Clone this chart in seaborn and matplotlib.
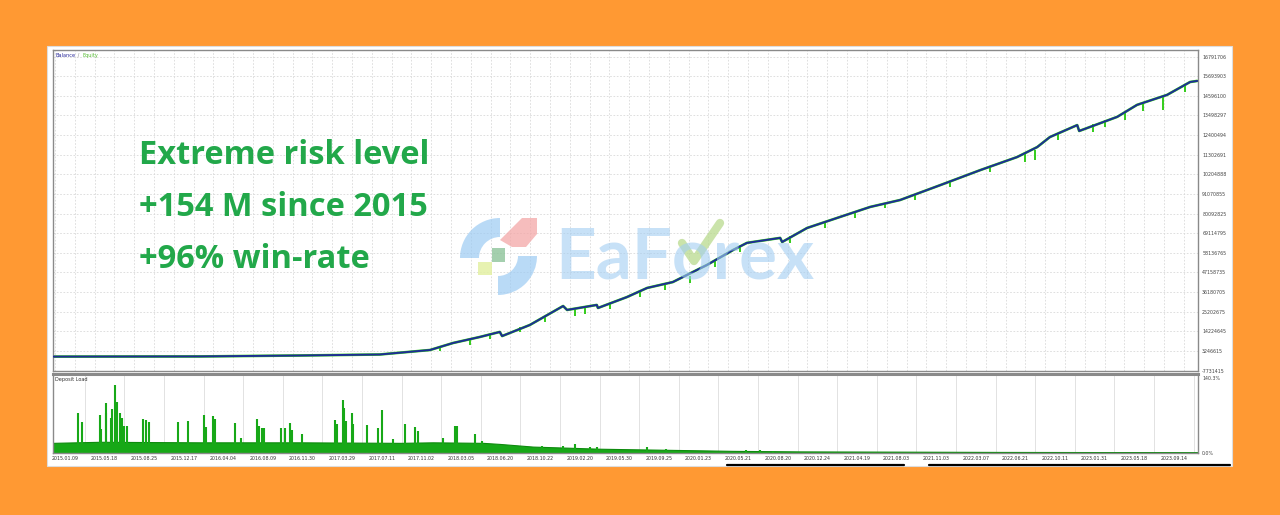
import matplotlib
matplotlib.use("Agg")
import matplotlib.pyplot as plt
from matplotlib.patches import Rectangle, Wedge, Polygon
import seaborn as sns
import pandas as pd

# balance curve (x = position in date-label units, y = millions)
bal_x = [-0.30, 3.41, 5.93, 7.95, 9.22, 9.80, 10.48, 10.98, 11.04, 11.74, 12.58, 12.68,
         13.43, 13.46, 14.19, 14.70, 15.35, 16.21, 16.87, 17.22, 18.06, 18.11, 18.74,
         19.57, 20.33, 21.09, 22.10, 23.11, 24.04, 24.55, 24.87, 25.56, 25.61, 26.57,
         27.07, 27.83, 28.41, 28.59]
bal_y = [0.10, 0.2, 0.72, 1.28, 3.8, 7.71, 11.1, 13.9, 11.6, 17.8, 28.4, 26.2,
         29.0, 27.3, 33.4, 38.5, 41.8, 51.35, 59.7, 63.7, 66.5, 64.2, 72.05,
         78.2, 83.8, 87.7, 96.0, 104.4, 111.7, 117.3, 122.9, 129.6, 126.3, 134.2,
         140.9, 146.5, 153.7, 154.3]

# equity drawdown spikes (position, top, bottom)
dip_x = [9.47, 10.23, 10.73, 11.49, 12.12, 12.88, 13.13, 13.76, 14.52, 15.15, 15.78,
         16.41, 17.05, 18.31, 19.19, 19.95, 20.71, 21.46, 22.35, 23.36, 24.24, 24.49,
         25.08, 25.96, 26.26, 26.77, 27.22, 27.73, 28.28]
dip_top = [5.5, 9.4, 12.8, 16.7, 22.8, 26.7, 27.9, 30.1, 36.8, 40.7, 45.2,
           53.6, 62.0, 67.6, 75.4, 81.0, 86.0, 91.0, 98.3, 106.7, 113.4, 115.6,
           125.1, 130.2, 132.4, 136.9, 141.9, 145.4, 152.6]
dip_low = [3.2, 6.6, 10.0, 13.9, 19.5, 22.8, 23.9, 26.7, 33.4, 37.4, 41.3,
           50.2, 58.6, 63.7, 72.0, 77.6, 83.2, 87.6, 94.9, 103.3, 108.9, 110.1,
           121.2, 125.7, 128.5, 132.4, 137.5, 138.1, 148.2]

# deposit load: base level and spikes (%)
load_x = [-0.30, 0.88, 3.41, 5.93, 8.46, 9.29, 10.56, 10.98, 11.82, 12.68, 13.51,
          14.34, 15.20, 16.04, 16.87, 18.56, 21.09, 23.61, 28.61]
load_y = [19, 21, 20, 20, 19, 20, 19, 17, 12, 10, 8, 7, 6, 5, 4, 3, 2.5, 2, 1.5]
spike_x = [0.34, 0.42, 0.88, 0.91, 1.03, 1.05, 1.16, 1.20, 1.26, 1.31, 1.38, 1.45,
           1.50, 1.58, 1.96, 2.06, 2.13, 2.86, 3.11, 3.50, 3.57, 3.74, 3.80, 4.29,
           4.44, 4.86, 4.90, 4.97, 5.03, 5.45, 5.57, 5.68, 5.74, 5.98, 6.82, 6.86,
           7.01, 7.05, 7.10, 7.24, 7.28, 7.62, 7.90, 8.00, 8.29, 8.60, 8.84, 8.92,
           9.55, 9.85, 9.91, 10.35, 10.52, 12.04, 12.57, 12.88, 13.26, 13.43, 14.69,
           15.19, 17.20, 17.55, 17.88]
spike_y = [75, 58, 72, 45, 93, 75, 66, 83, 127, 96, 75, 66,
           50, 50, 64, 61, 58, 58, 60, 72, 49, 70, 63, 56,
           29, 63, 50, 47, 46, 46, 46, 56, 44, 35, 61, 54,
           99, 84, 60, 75, 54, 52, 46, 81, 26, 54, 49, 41,
           29, 50, 50, 35, 23, 14, 14, 16, 11, 11, 12,
           8, 5, 5, 4]

x_labels = ['2015.01.09', '2015.05.18', '2015.08.25', '2015.12.17', '2016.04.04',
            '2016.08.09', '2016.11.30', '2017.03.29', '2017.07.11', '2017.11.02',
            '2018.03.05', '2018.06.20', '2018.10.22', '2019.02.20', '2019.05.30',
            '2019.09.25', '2020.01.23', '2020.05.21', '2020.08.20', '2020.12.24',
            '2021.04.19', '2021.08.03', '2021.11.03', '2022.03.07', '2022.06.21',
            '2022.10.11', '2023.01.31', '2023.05.18', '2023.09.14']
y_ticks = [-7.73, 3.25, 14.22, 25.20, 36.18, 47.16, 58.14, 69.11, 80.09, 91.07,
           102.05, 113.03, 124.00, 134.98, 145.96, 156.94, 167.92]
y_labels = ['-7731415', '3246615', '14224645', '25202675', '36180705', '47158735',
            '58136765', '69114795', '80092825', '91070855', '10204888', '11302691',
            '12400494', '13498297', '14596100', '15693903', '16791706']
headline = ['Extreme risk level', '+154 M since 2015', '+96% win-rate']

W, H = 1280, 515
ORANGE = '#FF9933'
NAVY = '#1E2C96'
EQ_GREEN = '#33CC1A'
LOAD_GREEN = '#17A817'
TEXT_GREEN = '#22A84A'

sns.set_theme(style='white')
plt.rcParams['font.family'] = ['DejaVu Sans']


def px_rect(x0, y0, x1, y1):
    return [x0 / W, 1 - y1 / H, (x1 - x0) / W, (y1 - y0) / H]


fig = plt.figure(figsize=(W / 100, H / 100), dpi=100)
fig.patch.set_facecolor(ORANGE)

# white panel behind the charts
bg = fig.add_axes([0, 0, 1, 1], zorder=0)
bg.set_xlim(0, W)
bg.set_ylim(H, 0)
bg.axis('off')
bg.add_patch(Rectangle((47, 46), 1185, 420, facecolor='white', edgecolor='#DDDDDD', lw=0.8))

xmin, xmax = -0.30, 28.61

# ---- balance / equity panel
ax = fig.add_axes(px_rect(53, 50, 1198, 371), zorder=1)
ax.set_facecolor('white')
df_bal = pd.DataFrame({'x': bal_x, 'y': bal_y})
sns.lineplot(data=df_bal, x='x', y='y', ax=ax, color=EQ_GREEN, lw=1.9,
             estimator=None, sort=False, zorder=2)
ax.vlines(dip_x, dip_low, dip_top, color=EQ_GREEN, lw=1.4, zorder=2)
sns.lineplot(data=df_bal, x='x', y='y', ax=ax, color=NAVY, lw=1.4,
             estimator=None, sort=False, zorder=3)
ax.set_yticks(y_ticks)
ax.set_yticklabels(y_labels)
ax.yaxis.tick_right()
ax.tick_params(axis='y', labelsize=3.4, colors='#444444', length=0, pad=3)
ax.set_xticks([k * 0.5 + 0.25 for k in range(-1, 58)])
ax.tick_params(axis='x', length=0, labelbottom=False)
ax.set_xlim(xmin, xmax)
ax.set_ylim(-7.95, 171.6)
ax.grid(True, color='#D9D9D9', lw=0.6, ls=(0, (2, 2)))
ax.set_xlabel('')
ax.set_ylabel('')
for s in ax.spines.values():
    s.set_color('#8A8A8A')
    s.set_linewidth(1.0)
ax.text(0.002, 0.992, 'Balance', transform=ax.transAxes, fontsize=3.6,
        color='#2B2B9A', ha='left', va='top')
ax.text(0.0205, 0.992, ' / ', transform=ax.transAxes, fontsize=3.6,
        color='#888888', ha='left', va='top')
ax.text(0.0262, 0.992, 'Equity', transform=ax.transAxes, fontsize=3.6,
        color='#55BB33', ha='left', va='top')

# ---- deposit load panel
ax2 = fig.add_axes(px_rect(53, 374, 1198, 453), zorder=1)
ax2.set_facecolor('white')
ax2.fill_between(load_x, 0, load_y, color=LOAD_GREEN, lw=0.8, edgecolor='#0E8A0E')
ax2.vlines(spike_x, 0, spike_y, color=LOAD_GREEN, lw=1.5)
ax2.set_yticks([0, 140.3])
ax2.set_yticklabels(['0.0%', '140.3%'])
ax2.yaxis.tick_right()
ax2.tick_params(axis='y', labelsize=3.4, colors='#444444', length=0, pad=3)
ax2.set_xticks(range(len(x_labels)))
ax2.set_xticklabels(x_labels)
ax2.tick_params(axis='x', labelsize=3.4, colors='#333333', length=0, pad=2)
ax2.set_xticks([k + 0.5 for k in range(-1, 29)], minor=True)
ax2.set_xlim(xmin, xmax)
ax2.set_ylim(0, 148)
ax2.grid(False)
ax2.grid(True, which='minor', axis='x', color='#DDDDDD', lw=0.6)
for s in ax2.spines.values():
    s.set_color('#8A8A8A')
    s.set_linewidth(1.0)
ax2.spines['top'].set_linewidth(2.2)
ax2.text(0.002, 0.96, 'Deposit Load', transform=ax2.transAxes, fontsize=3.6,
         color='#333333', ha='left', va='top')

# ---- overlay: watermark and headline
ov = fig.add_axes([0, 0, 1, 1], zorder=10)
ov.set_xlim(0, W)
ov.set_ylim(H, 0)
ov.axis('off')
ov.patch.set_alpha(0)

blue = '#9CCBF3'
ov.add_patch(Wedge((500, 258), 40, 180, 270, width=19, facecolor=blue, alpha=0.7, lw=0))
ov.add_patch(Wedge((498, 256), 39, 0, 90, width=19, facecolor=blue, alpha=0.7, lw=0))
ov.add_patch(Polygon([(500, 240), (522, 218), (537, 218), (537, 234), (526, 247), (512, 247)],
                     closed=True, facecolor='#F4A7A7', alpha=0.75, lw=0))
ov.add_patch(Rectangle((492, 248), 13, 14, facecolor='#8DC49A', alpha=0.8, lw=0))
ov.add_patch(Rectangle((478, 262), 14, 13, facecolor='#E3F0A4', alpha=0.85, lw=0))
ov.text(555, 258, 'EaForex', fontsize=51, fontweight='bold', family=['Lato', 'DejaVu Sans'],
        color='#A3CEF2', alpha=0.6, ha='left', va='center')
ov.plot([682, 694, 720], [243, 261, 223], color='#B9DA8E', lw=6, alpha=0.75,
        solid_capstyle='round', solid_joinstyle='round')

for i, line in enumerate(headline):
    ov.text(139, 155 + i * 52.5, line, fontsize=23.5, fontweight='bold',
            family=['Open Sans', 'DejaVu Sans'], color=TEXT_GREEN, ha='left', va='center')

ov.plot([727, 904], [465, 465], color='black', lw=1.6)
ov.plot([929, 1230], [465, 465], color='black', lw=1.6)

fig.savefig('out.png', dpi=100, facecolor=fig.get_facecolor())
